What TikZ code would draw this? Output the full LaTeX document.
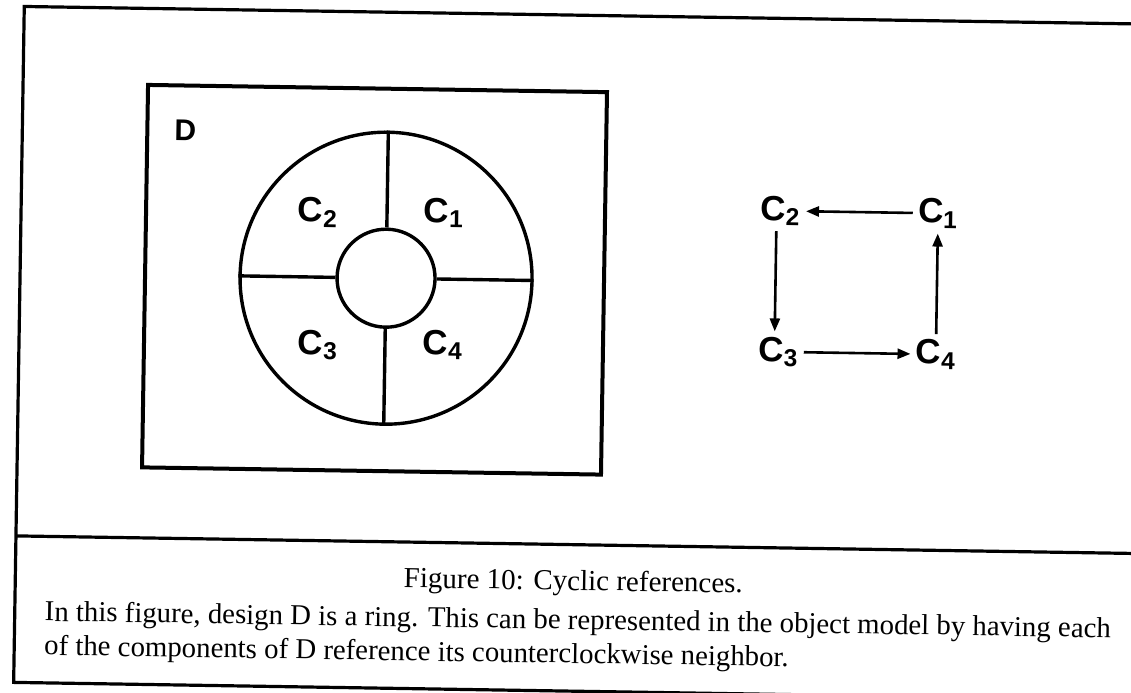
\documentclass[tikz,border=0pt]{standalone}
\usepackage{fontspec}
\setmainfont{Liberation Serif}
\setsansfont{Liberation Sans}
\usetikzlibrary{arrows.meta}
\tikzset{
    framerule/.style={draw, line width=1.6pt},
    designbox/.style={draw, line width=2pt},
    ringcircle/.style={draw, circle, line width=1.7pt, inner sep=0pt},
    ringrule/.style={draw, line width=1.7pt},
    ringtext/.style={font=\sffamily\bfseries\fontsize{17.5}{20}\selectfont, inner sep=2.5pt},
    designlabel/.style={font=\sffamily\bfseries\fontsize{15}{18}\selectfont},
    refnode/.style={font=\sffamily\bfseries\fontsize{17.5}{20}\selectfont, inner sep=2.5pt},
    refarrow/.style={draw, line width=1.3pt, -{Triangle[length=6.5pt, width=5pt]}},
    captiontitle/.style={font=\fontsize{14.5}{17}\selectfont},
    captionbody/.style={font=\fontsize{14.4}{17}\selectfont, align=left, anchor=west}
}

\begin{document}
\begin{tikzpicture}[x=0.5pt, y=-0.5pt]
    \useasboundingbox (0,0) rectangle (1131,692);
    \begin{scope}[rotate around={-0.9:(565,346)}, transform shape]
    \draw[framerule] (1170,15) -| (19,691) -- (1170,691);
    \draw[framerule] (19,544.5) -- (1170,544.5);

    \draw[designbox] (144,91.5) rectangle (603,474);
    \node[designlabel] (dlabel) at (182,136) {D};
    \node[ringcircle, minimum size=146pt] (outer) at (385,281) {};
    \node[ringcircle, minimum size=49pt] (inner) at (385,281) {};
    \draw[ringrule] (outer.north) -- (inner.north);
    \draw[ringrule] (outer.south) -- (inner.south);
    \draw[ringrule] (outer.west) -- (inner.west);
    \draw[ringrule] (outer.east) -- (inner.east);
    \node[ringtext] (c1) at (442,215) {C\textsubscript{1}};
    \node[ringtext] (c2) at (316,216) {C\textsubscript{2}};
    \node[ringtext] (c3) at (318,349) {C\textsubscript{3}};
    \node[ringtext] (c4) at (443,347) {C\textsubscript{4}};

    \node[refnode] (g1) at (936,207.5) {C\textsubscript{1}};
    \node[refnode] (g2) at (778.5,207.5) {C\textsubscript{2}};
    \node[refnode] (g3) at (778.5,348.5) {C\textsubscript{3}};
    \node[refnode] (g4) at (936,348.5) {C\textsubscript{4}};
    \draw[refarrow] (g1) -- (g2);
    \draw[refarrow] ([xshift=-2pt]g2.south) -- ([xshift=-2pt]g3.north);
    \draw[refarrow] (g3) -- (g4);
    \draw[refarrow] (g4) -- (g1);

    \node[captiontitle] (title) at (577,583) {Figure 10: Cyclic references.};
    \node[captionbody] (body) at (42,639) {In this figure, design D is a ring. This can be represented in the object model by having each\\of the components of D reference its counterclockwise neighbor.};
    \end{scope}
\end{tikzpicture}
\end{document}
